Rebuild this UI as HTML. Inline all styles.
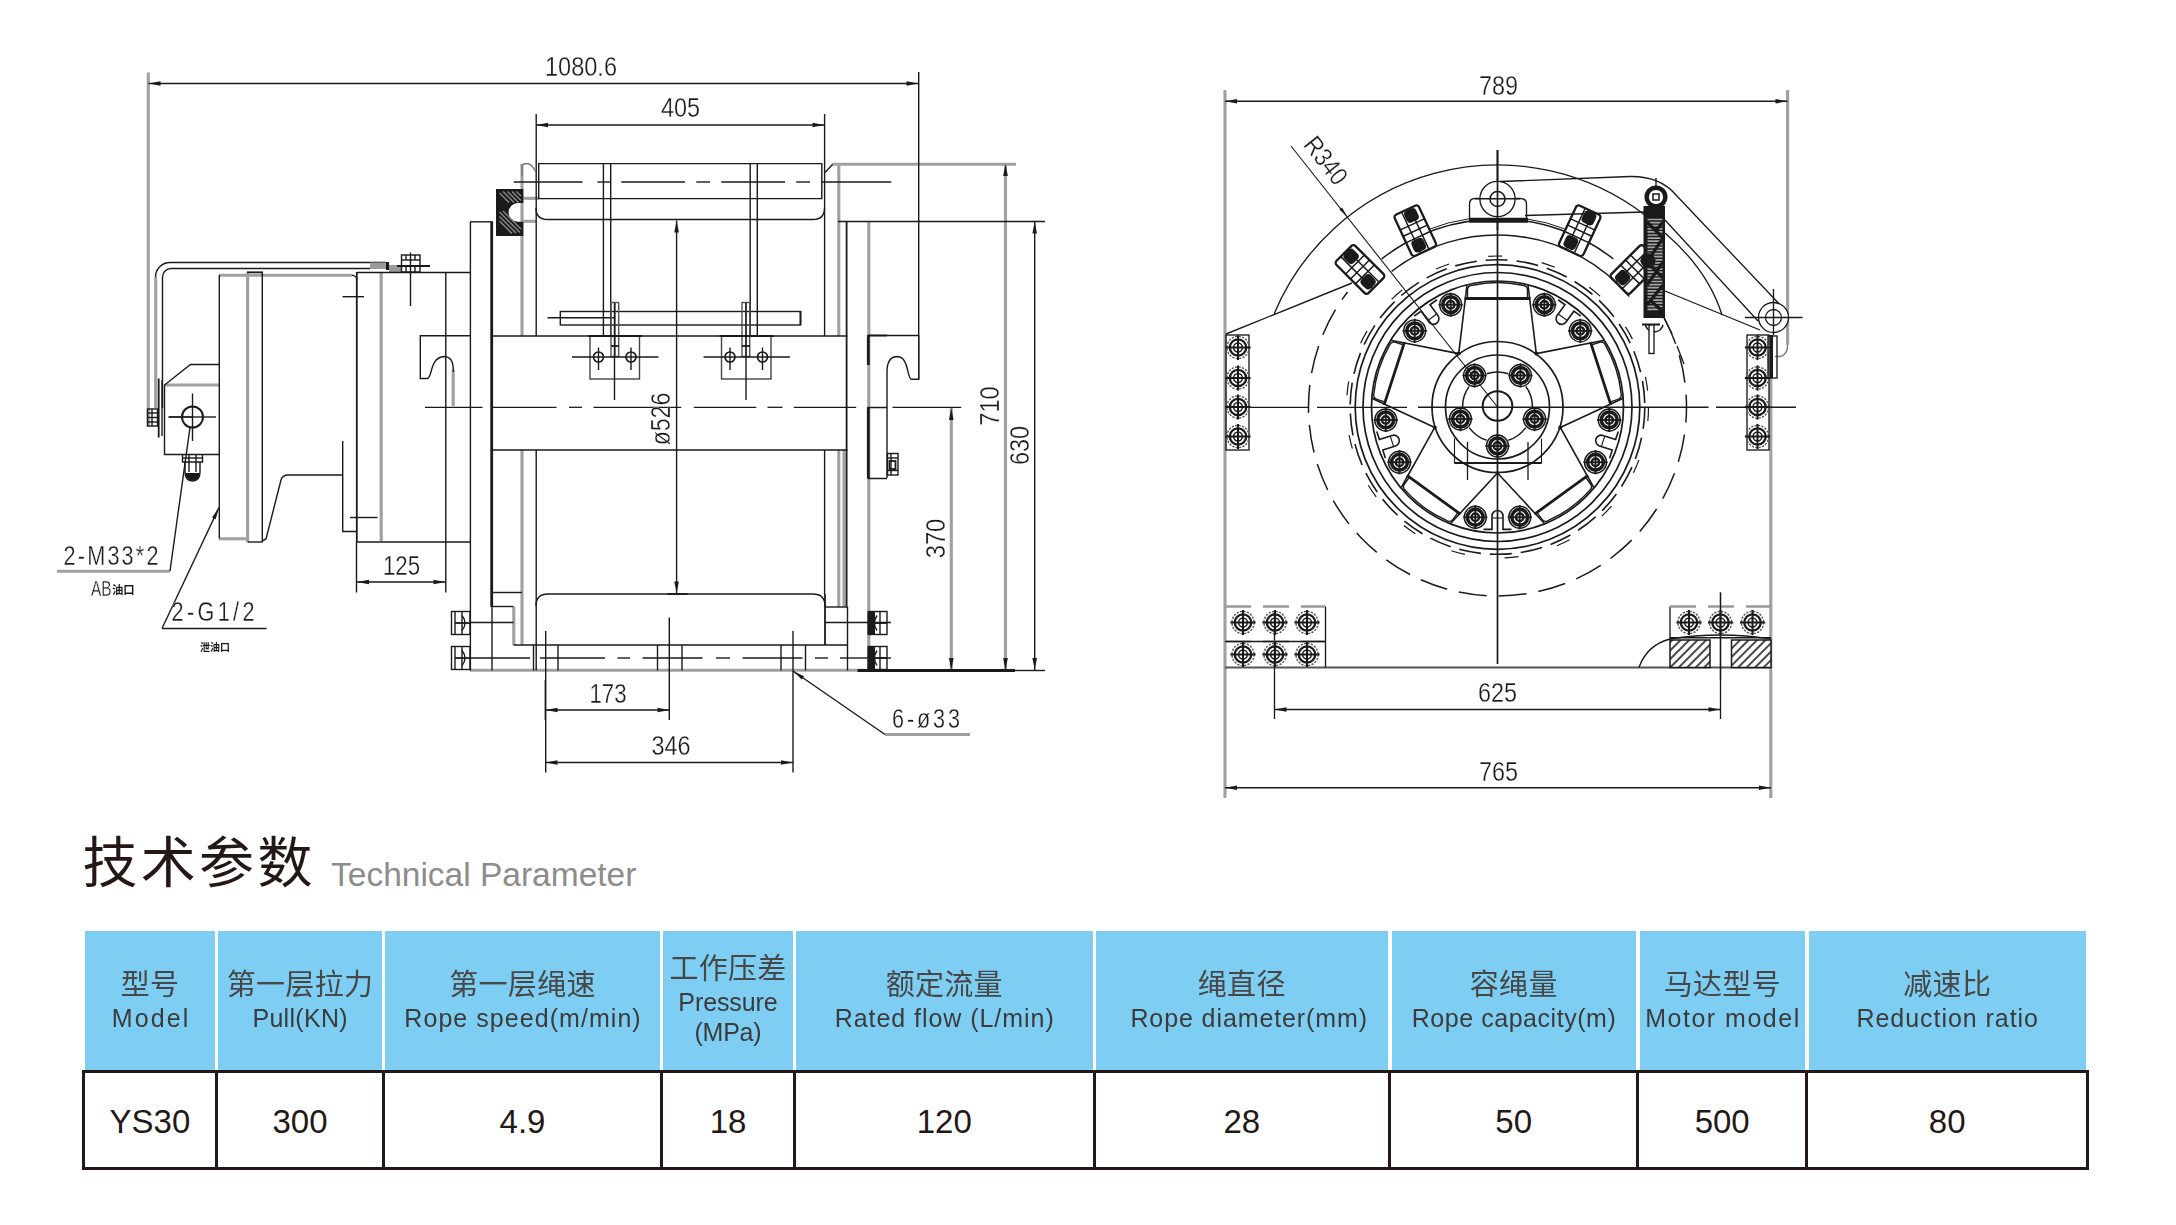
<!DOCTYPE html>
<html lang="zh"><head><meta charset="utf-8"><title>YS30</title>
<style>
html,body{margin:0;padding:0;background:#fff}
body{width:2176px;height:1225px;position:relative;overflow:hidden;font-family:"Liberation Sans","Noto Sans CJK SC",sans-serif;color:#231815}
svg{position:absolute;left:0;top:0}
.ttl{position:absolute;left:83px;top:826px;height:70px;white-space:nowrap}
.ttl .zh{position:absolute;left:-0.5px;top:1.5px;font-size:55px;line-height:70px;font-weight:400;letter-spacing:3.3px;color:#231815}
.ttl .en{position:absolute;left:248px;top:29px;font-size:33.5px;line-height:40px;color:#8c8c8c}
.hd{position:absolute;left:0;top:931.2px;height:139.3px;width:2176px}
.hc{position:absolute;top:0;height:139.3px;background:#7ecef4;text-align:center;white-space:nowrap;box-sizing:border-box;padding-top:35.8px;color:#3e3a39}
.hc b{filter:grayscale(1);display:block;font-weight:400;font-size:29px;line-height:36px;height:36px;letter-spacing:0.3px;color:#4a4645}
.hc i{filter:grayscale(1);display:block;font-style:normal;font-size:25px;line-height:30px;height:30px}
.hc.h3{padding-top:19.8px}
.bd{position:absolute;left:0;top:1070.4px;height:100px;width:2176px}
.bc{position:absolute;top:0;height:100px;box-sizing:border-box;border:0 solid #231815;border-width:3px 0 3px 3px;text-align:center;font-size:33px;line-height:97px;color:#231815}
svg text{stroke:#fff;stroke-width:0.3px;fill:#231815;font-family:"Liberation Sans","Noto Sans CJK SC",sans-serif}
svg .tz{font-family:"Liberation Sans","Noto Sans CJK SC",sans-serif;font-weight:700;fill:#231815;stroke:none}
svg .tx{}
svg .ar{fill:#231815;stroke:none}
svg .fk{fill:#231815;stroke:none}
svg .fg{fill:#9a9a9a;stroke:none}
svg .g{stroke:#a0a0a0;stroke-width:3.1}
svg .t{stroke-width:1.8}
svg .t2{stroke-width:2.8}
svg .t3{stroke-width:3}
</style></head><body>
<svg style="filter:grayscale(1)" width="2176" height="1225" viewBox="0 0 2176 1225" fill="none" stroke="#231815" stroke-width="1.15">
<g id="left" stroke-width="1.4">
<line x1="148.3" y1="72.5" x2="148.3" y2="426" class="g"/>
<line x1="219" y1="275.3" x2="352" y2="275.3" class="g"/>
<line x1="247.6" y1="272.5" x2="247.6" y2="542" class="g"/>
<line x1="381.2" y1="272.5" x2="381.2" y2="541" class="g"/>
<line x1="522" y1="164" x2="522" y2="336" class="g"/>
<line x1="522" y1="450" x2="522" y2="645" class="g"/>
<line x1="523" y1="198.3" x2="538.5" y2="198.3" class="g"/>
<line x1="523" y1="221.3" x2="536" y2="221.3" class="g"/>
<line x1="832" y1="164.3" x2="1016" y2="164.3" class="g"/>
<line x1="838.8" y1="164" x2="838.8" y2="336" class="g"/>
<line x1="838.8" y1="450" x2="838.8" y2="607" class="g"/>
<line x1="868.8" y1="221.5" x2="868.8" y2="670.5" class="g"/>
<line x1="1005.5" y1="164" x2="1005.5" y2="670" class="g"/>
<line x1="951.3" y1="408" x2="951.3" y2="670" class="g"/>
<line x1="453.2" y1="370" x2="453.2" y2="406" class="g"/>
<line x1="164.5" y1="385" x2="219" y2="385" class="g"/>
<line x1="57" y1="571.3" x2="170" y2="571.3" class="g"/>
<line x1="219" y1="538.8" x2="248" y2="538.8" class="g"/>
<line x1="513.8" y1="606.5" x2="513.8" y2="645" class="g"/>
<line x1="470" y1="670.3" x2="868" y2="670.3" class="g"/>
<line x1="885" y1="734.5" x2="970" y2="734.5" class="g"/>
<line x1="844" y1="450" x2="844" y2="607" class="g"/>
<line x1="918.7" y1="72" x2="918.7" y2="379"/>
<line x1="148.5" y1="83.5" x2="918.5" y2="83.5"/>
<path d="M148.5 83.5L160.5 81.2L160.5 85.8Z" class="ar"/>
<path d="M918.5 83.5L906.5 85.8L906.5 81.2Z" class="ar"/>
<text class="tx" x="581" y="76" font-size="27.04" text-anchor="middle" textLength="72.1" lengthAdjust="spacingAndGlyphs">1080.6</text>
<line x1="536.2" y1="114" x2="536.2" y2="336"/>
<line x1="824.6" y1="114" x2="824.6" y2="336"/>
<line x1="536" y1="125" x2="824.5" y2="125"/>
<path d="M536 125L548 122.7L548 127.3Z" class="ar"/>
<path d="M824.5 125L812.5 127.3L812.5 122.7Z" class="ar"/>
<text class="tx" x="680.5" y="117" font-size="27.04" text-anchor="middle" textLength="39.14" lengthAdjust="spacingAndGlyphs">405</text>
<line x1="155.7" y1="277" x2="155.7" y2="408" class="g"/>
<path d="M386 262.5H170A14.5 14.5 0 0 0 155.5 277"/>
<path d="M370 268.5H171A8.5 8.5 0 0 0 162.5 277V408"/>
<rect x="370" y="262.5" width="16" height="6.5" class="fg"/>
<rect x="386" y="262" width="3" height="8" class="fk"/>
<rect x="389" y="265" width="12" height="7" class="fg"/>
<rect x="401.5" y="255" width="18.5" height="17"/>
<line x1="401.5" y1="260" x2="420" y2="260"/>
<line x1="397" y1="266" x2="430" y2="266" class="t"/>
<line x1="406" y1="255" x2="406" y2="260"/>
<line x1="415" y1="255" x2="415" y2="260"/>
<line x1="406" y1="266" x2="406" y2="272"/>
<line x1="415" y1="266" x2="415" y2="272"/>
<line x1="410.5" y1="252.5" x2="410.5" y2="306"/>
<path d="M219.3 538.5V275"/>
<path d="M352 275.3A5 5 0 0 1 357 280"/>
<line x1="356.8" y1="272" x2="356.8" y2="542" class="t"/>
<line x1="356.5" y1="542" x2="356.5" y2="592.5"/>
<path d="M262.3 542V272.5"/>
<line x1="247" y1="272.3" x2="263" y2="272.3" class="t"/>
<line x1="247.5" y1="542" x2="262.5" y2="542"/>
<line x1="342.5" y1="296.7" x2="364" y2="296.7"/>
<line x1="357" y1="272.5" x2="470" y2="272.5"/>
<line x1="445.8" y1="272.5" x2="445.8" y2="592.5"/>
<path d="M262 541L266 539L281 480Q282.5 475 288 475H342.5"/>
<path d="M342.7 441V531.5H356.5"/>
<line x1="350" y1="517.5" x2="377.5" y2="517.5"/>
<line x1="357" y1="542" x2="470" y2="542"/>
<line x1="357" y1="582" x2="445.5" y2="582"/>
<path d="M357 582L369 579.7L369 584.3Z" class="ar"/>
<path d="M445.5 582L433.5 584.3L433.5 579.7Z" class="ar"/>
<text class="tx" x="401.5" y="575" font-size="27.04" text-anchor="middle" textLength="37.08" lengthAdjust="spacingAndGlyphs">125</text>
<path d="M219 364.5H190.5L164.5 385V454.5H219"/>
<circle cx="192.5" cy="417" r="10.5" stroke-width="2"/>
<line x1="168.5" y1="417" x2="192.5" y2="417" class="t"/>
<line x1="192.5" y1="417" x2="216" y2="417"/>
<line x1="192.5" y1="393.5" x2="192.5" y2="441"/>
<rect x="147.5" y="409" width="10" height="17"/>
<line x1="147.5" y1="413" x2="157.5" y2="413"/>
<line x1="147.5" y1="417.5" x2="157.5" y2="417.5"/>
<line x1="147.5" y1="422" x2="157.5" y2="422"/>
<line x1="152" y1="409" x2="152" y2="426"/>
<line x1="158.7" y1="378.5" x2="158.7" y2="437.5" class="t"/>
<line x1="162" y1="380" x2="162" y2="436"/>
<path d="M182.5 454.5V462H202.5V454.5M185 462V472Q185 481 192.5 481Q200 481 200 472V462"/>
<path d="M185.5 473H199.5V475Q198 480.5 192.5 480.5Q187 480.5 185.5 475Z" class="fk"/>
<line x1="189" y1="455" x2="189" y2="472"/>
<line x1="196" y1="455" x2="196" y2="472"/>
<line x1="182.5" y1="458" x2="202.5" y2="458"/>
<line x1="190" y1="427.5" x2="170" y2="571"/>
<text class="tx" font-size="27.04" text-anchor="middle" transform="translate(111 565) scale(0.8 1)" textLength="118.75" lengthAdjust="spacing">2-M33*2</text>
<text class="tx" x="91" y="596" font-size="21.84" text-anchor="start" textLength="20.6" lengthAdjust="spacingAndGlyphs">AB</text>
<text class="tz" x="112" y="594" font-size="11.44" text-anchor="start" textLength="22.66" lengthAdjust="spacingAndGlyphs">油口</text>
<line x1="219" y1="507.5" x2="162" y2="628.5"/>
<path d="M219 507.5L215.66 519.2L212.05 517.48Z" class="ar"/>
<line x1="162" y1="628.5" x2="266.5" y2="628.5"/>
<text class="tx" font-size="27.04" text-anchor="middle" transform="translate(213 621) scale(0.8 1)" textLength="103.75" lengthAdjust="spacing">2-G1/2</text>
<text class="tz" x="200" y="651" font-size="10.4" text-anchor="start" textLength="29.87" lengthAdjust="spacingAndGlyphs">泄油口</text>
<line x1="470.4" y1="222" x2="470.4" y2="670.5"/>
<line x1="470" y1="221.8" x2="493" y2="221.8"/>
<line x1="491.7" y1="222" x2="491.7" y2="607" class="t2"/>
<line x1="492" y1="607" x2="492" y2="670.5"/>
<path d="M470 335.7H420.3V378.5H427.5C432 378.5 430 357 444 356.5C454 356.5 453.3 368 453.3 372"/>
<path d="M496 189H523.3V203H518A9.4 9.4 0 0 0 518 221.8H523.3V236H496Z" class="fk"/>
<path d="M499.5 193L509 202.5M503 191.5L514 202.5M507.5 191.5L518.5 202.5M512 191.5L521 200.5M516.5 191.5L521 196M499.5 212L520 232.5M499.5 216.5L516 233M499.5 221L512 233.5M503 211L521 229" stroke="#8a8a8a" stroke-width="1.4"/>
<path d="M522 176V166.5Q522 163.7 525 163.7H528Q531 164 533 167.5L536 172" stroke="#777"/>
<path d="M825 172.5L832.5 164.5"/>
<path d="M538.7 163.6H821.8V198.6H538.7Z"/>
<path d="M536 208Q536 219.5 547.5 219.5H813Q824.5 219.5 824.5 208"/>
<line x1="513.75" y1="182" x2="582.5" y2="182"/>
<line x1="597.5" y1="182" x2="610" y2="182"/>
<line x1="621.25" y1="182" x2="685" y2="182"/>
<line x1="696.25" y1="182" x2="710" y2="182"/>
<line x1="721.25" y1="182" x2="785" y2="182"/>
<line x1="796.25" y1="182" x2="810" y2="182"/>
<line x1="821.25" y1="182" x2="891.25" y2="182"/>
<line x1="603.4" y1="164" x2="603.4" y2="336"/>
<line x1="610.7" y1="164" x2="610.7" y2="336"/>
<line x1="750.2" y1="164" x2="750.2" y2="336"/>
<line x1="757.3" y1="164" x2="757.3" y2="336"/>
<line x1="838" y1="221.5" x2="1045" y2="221.5"/>
<line x1="846.6" y1="221.5" x2="846.6" y2="607" class="t"/>
<line x1="847.5" y1="607" x2="847.5" y2="670.5"/>
<path d="M868.5 335.5H918.7V379.3H911.5C907 379 909 357 897.5 356.5C887 356.5 887 368 887 372V478"/>
<line x1="868.3" y1="335" x2="868.3" y2="365" class="t2"/>
<line x1="868" y1="335.5" x2="887" y2="335.5" class="t"/>
<path d="M868 407.5H887M868 478.5H887"/>
<line x1="868.3" y1="407" x2="868.3" y2="478.5" class="t2"/>
<rect x="887.5" y="453.5" width="10.5" height="21.5"/>
<line x1="887.5" y1="458" x2="898" y2="458"/>
<line x1="887.5" y1="470.5" x2="898" y2="470.5"/>
<line x1="891" y1="453.5" x2="891" y2="475"/>
<rect x="889.5" y="461" width="6" height="8" class="t"/>
<line x1="492.5" y1="336" x2="847.5" y2="336"/>
<line x1="492.5" y1="450" x2="847.5" y2="450" stroke-width="1.4"/>
<line x1="425" y1="407.3" x2="482.5" y2="407.3" stroke-width="1.3"/>
<line x1="492.5" y1="407.3" x2="556.5" y2="407.3" stroke-width="1.3"/>
<line x1="569" y1="407.3" x2="582" y2="407.3" stroke-width="1.3"/>
<line x1="593.5" y1="407.3" x2="681.25" y2="407.3" stroke-width="1.3"/>
<line x1="693.75" y1="407.3" x2="756.25" y2="407.3" stroke-width="1.3"/>
<line x1="767.5" y1="407.3" x2="782.5" y2="407.3" stroke-width="1.3"/>
<line x1="793.75" y1="407.3" x2="856.25" y2="407.3" stroke-width="1.3"/>
<line x1="892.5" y1="407.3" x2="961.25" y2="407.3" stroke-width="1.3"/>
<line x1="536.2" y1="450" x2="536.2" y2="670.5"/>
<line x1="824.6" y1="450" x2="824.6" y2="594"/>
<line x1="825" y1="594" x2="825" y2="645" class="t"/>
<line x1="676.6" y1="220.5" x2="676.6" y2="593.5"/>
<path d="M676.6 220.5L678.9 232.5L674.3 232.5Z" class="ar"/>
<path d="M676.6 593.5L674.3 581.5L678.9 581.5Z" class="ar"/>
<line x1="667.5" y1="594" x2="687.5" y2="594" class="t"/>
<text class="tx" x="670" y="419" font-size="27.04" text-anchor="middle" textLength="52.53" lengthAdjust="spacingAndGlyphs" transform="rotate(-90 670 419)">ø526</text>
<rect x="560.3" y="311.5" width="240.2" height="13.5"/>
<line x1="800.5" y1="311" x2="800.5" y2="325" class="t"/>
<line x1="547.5" y1="317.7" x2="615" y2="317.7"/>
<rect x="611" y="302.5" width="7.7" height="54" stroke="#555"/>
<line x1="615" y1="302.5" x2="615" y2="356" stroke="#555"/>
<line x1="611" y1="346" x2="619" y2="346" class="t"/>
<rect x="742" y="302.5" width="7.7" height="54" stroke="#555"/>
<line x1="746" y1="302.5" x2="746" y2="356" stroke="#555"/>
<line x1="742" y1="346" x2="750" y2="346" class="t"/>
<rect x="590" y="336" width="49.5" height="43" stroke="#444"/>
<line x1="588" y1="336" x2="642" y2="336" class="t"/>
<line x1="572" y1="357" x2="658.5" y2="357"/>
<line x1="614.5" y1="302.5" x2="614.5" y2="400"/>
<circle cx="598.5" cy="357" r="5" stroke-width="1.7"/>
<line x1="598.5" y1="347.5" x2="598.5" y2="370"/>
<circle cx="631" cy="357" r="5" stroke-width="1.7"/>
<line x1="631" y1="347.5" x2="631" y2="370"/>
<rect x="721.5" y="336" width="49.5" height="43" stroke="#444"/>
<line x1="719.5" y1="336" x2="773.5" y2="336" class="t"/>
<line x1="703.5" y1="357" x2="790" y2="357"/>
<line x1="746" y1="302.5" x2="746" y2="400"/>
<circle cx="730" cy="357" r="5" stroke-width="1.7"/>
<line x1="730" y1="347.5" x2="730" y2="370"/>
<circle cx="762.5" cy="357" r="5" stroke-width="1.7"/>
<line x1="762.5" y1="347.5" x2="762.5" y2="370"/>
<line x1="492.5" y1="592.5" x2="522" y2="592.5"/>
<line x1="492.5" y1="606.5" x2="513.5" y2="606.5"/>
<line x1="470.5" y1="622.5" x2="513.5" y2="622.5"/>
<path d="M536 606Q536 594 548 594H813Q825 594 825 606"/>
<line x1="825" y1="607" x2="847.5" y2="607"/>
<line x1="825" y1="622.5" x2="891" y2="622.5"/>
<line x1="513.5" y1="645" x2="847.5" y2="645" stroke-width="1.4"/>
<line x1="857.5" y1="670.5" x2="1015" y2="670.5" class="t2"/>
<line x1="1015" y1="670.5" x2="1045" y2="670.5"/>
<line x1="470" y1="658" x2="530" y2="658"/>
<line x1="540" y1="658" x2="605" y2="658"/>
<line x1="617.5" y1="658" x2="630" y2="658"/>
<line x1="642.5" y1="658" x2="702.5" y2="658"/>
<line x1="716" y1="658" x2="730" y2="658"/>
<line x1="742.5" y1="658" x2="802.5" y2="658"/>
<line x1="815" y1="658" x2="828" y2="658"/>
<line x1="840" y1="658" x2="867.5" y2="658"/>
<line x1="877.5" y1="658" x2="891" y2="658"/>
<line x1="533.5" y1="645" x2="533.5" y2="670.5"/>
<line x1="558" y1="645" x2="558" y2="670.5"/>
<line x1="657.5" y1="645" x2="657.5" y2="670.5"/>
<line x1="682" y1="645" x2="682" y2="670.5"/>
<line x1="781" y1="645" x2="781" y2="670.5"/>
<line x1="805.5" y1="645" x2="805.5" y2="670.5"/>
<line x1="545.7" y1="631" x2="545.7" y2="680"/>
<line x1="545.5" y1="680" x2="545.5" y2="720" class="t"/>
<line x1="545.7" y1="720" x2="545.7" y2="772.5"/>
<line x1="669.3" y1="617.5" x2="669.3" y2="720"/>
<line x1="793" y1="631" x2="793" y2="772.5"/>
<rect x="451.5" y="611.5" width="18.5" height="23"/>
<line x1="455" y1="611.5" x2="455" y2="634.5"/>
<line x1="462" y1="611.5" x2="462" y2="634.5"/>
<path d="M462 615.5Q468 623.0 462 630.5"/>
<line x1="455" y1="623" x2="470" y2="623" class="t"/>
<rect x="868.5" y="611.5" width="18.5" height="23"/>
<rect x="867.5" y="611.5" width="7.5" height="23" class="fk"/>
<line x1="880" y1="611.5" x2="880" y2="634.5"/>
<path d="M877 615.5Q872 623.0 877 630.5"/>
<line x1="872" y1="623" x2="887" y2="623" class="t"/>
<rect x="451.5" y="646.5" width="18.5" height="23"/>
<line x1="455" y1="646.5" x2="455" y2="669.5"/>
<line x1="462" y1="646.5" x2="462" y2="669.5"/>
<path d="M462 650.5Q468 658.0 462 665.5"/>
<line x1="455" y1="658" x2="470" y2="658" class="t"/>
<rect x="868.5" y="646.5" width="18.5" height="23"/>
<rect x="867.5" y="646.5" width="7.5" height="23" class="fk"/>
<line x1="880" y1="646.5" x2="880" y2="669.5"/>
<path d="M877 650.5Q872 658.0 877 665.5"/>
<line x1="872" y1="658" x2="887" y2="658" class="t"/>
<line x1="545.5" y1="710" x2="669.5" y2="710"/>
<path d="M545.5 710L557.5 707.7L557.5 712.3Z" class="ar"/>
<path d="M669.5 710L657.5 712.3L657.5 707.7Z" class="ar"/>
<text class="tx" x="608" y="703" font-size="27.04" text-anchor="middle" textLength="37.08" lengthAdjust="spacingAndGlyphs">173</text>
<line x1="545.5" y1="762.5" x2="793" y2="762.5"/>
<path d="M545.5 762.5L557.5 760.2L557.5 764.8Z" class="ar"/>
<path d="M793 762.5L781 764.8L781 760.2Z" class="ar"/>
<text class="tx" x="671" y="755" font-size="27.04" text-anchor="middle" textLength="39.14" lengthAdjust="spacingAndGlyphs">346</text>
<line x1="793" y1="671" x2="885" y2="734.5"/>
<path d="M793 671L804.03 676.13L801.77 679.43Z" class="ar"/>
<text class="tx" font-size="27.04" text-anchor="middle" transform="translate(926 727.5) scale(0.8 1)" textLength="85" lengthAdjust="spacing">6-ø33</text>
<path d="M1005.5 164L1007.8 176L1003.2 176Z" class="ar"/>
<path d="M1005.5 670L1003.2 658L1007.8 658Z" class="ar"/>
<line x1="1034.7" y1="221.5" x2="1034.7" y2="670"/>
<path d="M1034.7 221.5L1037 233.5L1032.4 233.5Z" class="ar"/>
<path d="M1034.7 670L1032.4 658L1037 658Z" class="ar"/>
<path d="M951.3 408L953.6 420L949 420Z" class="ar"/>
<path d="M951.3 670L949 658L953.6 658Z" class="ar"/>
<text class="tx" x="945" y="538.5" font-size="27.04" text-anchor="middle" textLength="39.66" lengthAdjust="spacingAndGlyphs" transform="rotate(-90 945 538.5)">370</text>
<text class="tx" x="999" y="406" font-size="27.04" text-anchor="middle" textLength="39.66" lengthAdjust="spacingAndGlyphs" transform="rotate(-90 999 406)">710</text>
<text class="tx" x="1028.5" y="445.5" font-size="27.04" text-anchor="middle" textLength="39.14" lengthAdjust="spacingAndGlyphs" transform="rotate(-90 1028.5 445.5)">630</text>
</g>
<g id="right" stroke-width="1.35">
<line x1="1225" y1="90" x2="1225" y2="798" class="g"/>
<line x1="1787.6" y1="90" x2="1787.6" y2="345" class="g"/>
<path d="M1787.6 345Q1787.6 355 1780 356.5H1775" stroke="#777"/>
<line x1="1770.8" y1="335" x2="1770.8" y2="798" class="g"/>
<line x1="1225" y1="101.2" x2="1787.5" y2="101.2"/>
<path d="M1225 101.2L1237 98.9L1237 103.5Z" class="ar"/>
<path d="M1787.5 101.2L1775.5 103.5L1775.5 98.9Z" class="ar"/>
<text class="tx" x="1498.5" y="94.5" font-size="27.04" text-anchor="middle" textLength="39.14" lengthAdjust="spacingAndGlyphs">789</text>
<line x1="1225" y1="667.5" x2="1771" y2="667.5" stroke="#555" stroke-width="2"/>
<line x1="1274.5" y1="709.5" x2="1720.5" y2="709.5"/>
<path d="M1274.5 709.5L1286.5 707.2L1286.5 711.8Z" class="ar"/>
<path d="M1720.5 709.5L1708.5 711.8L1708.5 707.2Z" class="ar"/>
<line x1="1274.5" y1="612" x2="1274.5" y2="719"/>
<line x1="1720.5" y1="592.5" x2="1720.5" y2="719"/>
<text class="tx" x="1497.5" y="702" font-size="27.04" text-anchor="middle" textLength="39.14" lengthAdjust="spacingAndGlyphs">625</text>
<line x1="1225" y1="787.7" x2="1771" y2="787.7"/>
<path d="M1225 787.7L1237 785.4L1237 790Z" class="ar"/>
<path d="M1771 787.7L1759 790L1759 785.4Z" class="ar"/>
<text class="tx" x="1498.5" y="780.5" font-size="27.04" text-anchor="middle" textLength="39.14" lengthAdjust="spacingAndGlyphs">765</text>
<line x1="1497.5" y1="150" x2="1497.5" y2="664" stroke-width="1.7"/>
<line x1="1249" y1="407.3" x2="1308" y2="407.3" stroke-width="1.3"/>
<line x1="1317" y1="407.3" x2="1407" y2="407.3" stroke-width="1.3"/>
<line x1="1418" y1="407.3" x2="1708.5" y2="407.3" stroke-width="1.6"/>
<line x1="1716" y1="407.3" x2="1796" y2="407.3" stroke-width="1.6"/>
<path d="M1274.08 314A242 242 0 0 1 1644.82 215.01"/>
<line x1="1226" y1="334" x2="1352" y2="283"/>
<path d="M1664.38 318.27A189 189 0 1 1 1347.56 291.94" stroke-dasharray="28 12" stroke-width="1.5"/>
<path d="M1381.76 258.85A188 188 0 0 1 1613.24 258.85" stroke-width="1.5"/>
<path d="M1391.61 271.46A172 172 0 0 1 1629.26 296.44" stroke-width="1.5"/>
<path d="M1426.14 230.37A190.5 190.5 0 0 1 1470.99 218.35" stroke-width="1"/>
<path d="M1524.01 218.35A190.5 190.5 0 0 1 1568.86 230.37" stroke-width="1"/>
<circle cx="1497.5" cy="407" r="126" stroke-width="1.7"/>
<circle cx="1497.5" cy="407" r="134.5" stroke-width="1.7"/>
<circle cx="1497.5" cy="407" r="142.3" stroke-width="1.7"/>
<circle cx="1497.5" cy="407" r="147.3" stroke-dasharray="22 9" stroke-width="1.6"/>
<circle cx="1497.5" cy="407" r="151" stroke-dasharray="14 40" stroke-width="1.2"/>
<circle cx="1497.5" cy="407" r="65.5" stroke-width="1.7"/>
<circle cx="1497.5" cy="407" r="52" stroke-width="1.7"/>
<circle cx="1497.5" cy="406" r="14.8" stroke-width="2"/>
<path d="M1486.68 440.29A35 35 0 0 1 1469.18 427.57" stroke-width="1.5"/>
<line x1="1497.5" y1="473" x2="1544.7" y2="523.83" stroke-width="1.6"/>
<line x1="1497.5" y1="473" x2="1450.3" y2="523.83" stroke-width="1.6"/>
<circle cx="1497.5" cy="473" r="2" class="fk"/>
<g transform="translate(1497.5 407) rotate(36)">
<path d="M-33 108.5H33" stroke-width="2.8"/>
<path d="M-30 109V117Q-30 121.5 -25 121.8A121.5 121.5 0 0 0 25 121.8Q30 121.5 30 117V109" stroke-width="1.4"/>
</g>
<g transform="translate(1497.5 407) rotate(0)">
<path d="M-14 122.4H-5.5V109A5.5 5.5 0 0 1 5.5 109V122.4H14" stroke-width="1.6"/>
<path d="M-5.5 111H5.5" stroke-width="1.1"/>
</g>
<circle cx="1519.74" cy="517.28" r="11" stroke-width="1.4"/>
<circle cx="1519.74" cy="517.28" r="7.92" stroke-width="3.5"/>
<circle cx="1519.74" cy="517.28" r="3.74" stroke-width="2.4"/>
<line x1="1507.64" y1="517.28" x2="1531.84" y2="517.28" stroke-width="1.8"/>
<line x1="1519.74" y1="505.18" x2="1519.74" y2="529.38" stroke-width="1.8"/>
<circle cx="1475.26" cy="517.28" r="11" stroke-width="1.4"/>
<circle cx="1475.26" cy="517.28" r="7.92" stroke-width="3.5"/>
<circle cx="1475.26" cy="517.28" r="3.74" stroke-width="2.4"/>
<line x1="1463.16" y1="517.28" x2="1487.36" y2="517.28" stroke-width="1.8"/>
<line x1="1475.26" y1="505.18" x2="1475.26" y2="529.38" stroke-width="1.8"/>
<circle cx="1497.5" cy="446" r="11" stroke-width="1.4"/>
<circle cx="1497.5" cy="446" r="7.92" stroke-width="3.5"/>
<circle cx="1497.5" cy="446" r="3.74" stroke-width="2.4"/>
<line x1="1485.4" y1="446" x2="1509.6" y2="446" stroke-width="1.8"/>
<line x1="1497.5" y1="433.9" x2="1497.5" y2="458.1" stroke-width="1.8"/>
<path d="M1462.5 407A35 35 0 0 1 1469.18 386.43" stroke-width="1.5"/>
<line x1="1434.73" y1="427.4" x2="1400.98" y2="487.99" stroke-width="1.6"/>
<line x1="1434.73" y1="427.4" x2="1371.81" y2="398.21" stroke-width="1.6"/>
<circle cx="1434.73" cy="427.4" r="2" class="fk"/>
<g transform="translate(1497.5 407) rotate(108)">
<path d="M-33 108.5H33" stroke-width="2.8"/>
<path d="M-30 109V117Q-30 121.5 -25 121.8A121.5 121.5 0 0 0 25 121.8Q30 121.5 30 117V109" stroke-width="1.4"/>
</g>
<g transform="translate(1497.5 407) rotate(72)">
<path d="M-14 122.4H-5.5V109A5.5 5.5 0 0 1 5.5 109V122.4H14" stroke-width="1.6"/>
<path d="M-5.5 111H5.5" stroke-width="1.1"/>
</g>
<circle cx="1399.49" cy="462.23" r="11" stroke-width="1.4"/>
<circle cx="1399.49" cy="462.23" r="7.92" stroke-width="3.5"/>
<circle cx="1399.49" cy="462.23" r="3.74" stroke-width="2.4"/>
<line x1="1387.39" y1="462.23" x2="1411.59" y2="462.23" stroke-width="1.8"/>
<line x1="1399.49" y1="450.13" x2="1399.49" y2="474.33" stroke-width="1.8"/>
<circle cx="1385.75" cy="419.93" r="11" stroke-width="1.4"/>
<circle cx="1385.75" cy="419.93" r="7.92" stroke-width="3.5"/>
<circle cx="1385.75" cy="419.93" r="3.74" stroke-width="2.4"/>
<line x1="1373.65" y1="419.93" x2="1397.85" y2="419.93" stroke-width="1.8"/>
<line x1="1385.75" y1="407.83" x2="1385.75" y2="432.03" stroke-width="1.8"/>
<circle cx="1460.41" cy="419.05" r="11" stroke-width="1.4"/>
<circle cx="1460.41" cy="419.05" r="7.92" stroke-width="3.5"/>
<circle cx="1460.41" cy="419.05" r="3.74" stroke-width="2.4"/>
<line x1="1448.31" y1="419.05" x2="1472.51" y2="419.05" stroke-width="1.8"/>
<line x1="1460.41" y1="406.95" x2="1460.41" y2="431.15" stroke-width="1.8"/>
<path d="M1486.68 373.71A35 35 0 0 1 1508.32 373.71" stroke-width="1.5"/>
<line x1="1458.71" y1="353.6" x2="1390.65" y2="340.23" stroke-width="1.6"/>
<line x1="1458.71" y1="353.6" x2="1467.02" y2="284.74" stroke-width="1.6"/>
<circle cx="1458.71" cy="353.6" r="2" class="fk"/>
<g transform="translate(1497.5 407) rotate(180)">
<path d="M-33 108.5H33" stroke-width="2.8"/>
<path d="M-30 109V117Q-30 121.5 -25 121.8A121.5 121.5 0 0 0 25 121.8Q30 121.5 30 117V109" stroke-width="1.4"/>
</g>
<g transform="translate(1497.5 407) rotate(144)">
<path d="M-14 122.4H-5.5V109A5.5 5.5 0 0 1 5.5 109V122.4H14" stroke-width="1.6"/>
<path d="M-5.5 111H5.5" stroke-width="1.1"/>
</g>
<circle cx="1414.69" cy="330.85" r="11" stroke-width="1.4"/>
<circle cx="1414.69" cy="330.85" r="7.92" stroke-width="3.5"/>
<circle cx="1414.69" cy="330.85" r="3.74" stroke-width="2.4"/>
<line x1="1402.59" y1="330.85" x2="1426.79" y2="330.85" stroke-width="1.8"/>
<line x1="1414.69" y1="318.75" x2="1414.69" y2="342.95" stroke-width="1.8"/>
<circle cx="1450.67" cy="304.71" r="11" stroke-width="1.4"/>
<circle cx="1450.67" cy="304.71" r="7.92" stroke-width="3.5"/>
<circle cx="1450.67" cy="304.71" r="3.74" stroke-width="2.4"/>
<line x1="1438.57" y1="304.71" x2="1462.77" y2="304.71" stroke-width="1.8"/>
<line x1="1450.67" y1="292.61" x2="1450.67" y2="316.81" stroke-width="1.8"/>
<circle cx="1474.58" cy="375.45" r="11" stroke-width="1.4"/>
<circle cx="1474.58" cy="375.45" r="7.92" stroke-width="3.5"/>
<circle cx="1474.58" cy="375.45" r="3.74" stroke-width="2.4"/>
<line x1="1462.48" y1="375.45" x2="1486.68" y2="375.45" stroke-width="1.8"/>
<line x1="1474.58" y1="363.35" x2="1474.58" y2="387.55" stroke-width="1.8"/>
<path d="M1525.82 386.43A35 35 0 0 1 1532.5 407" stroke-width="1.5"/>
<line x1="1536.29" y1="353.6" x2="1527.98" y2="284.74" stroke-width="1.6"/>
<line x1="1536.29" y1="353.6" x2="1604.35" y2="340.23" stroke-width="1.6"/>
<circle cx="1536.29" cy="353.6" r="2" class="fk"/>
<g transform="translate(1497.5 407) rotate(252)">
<path d="M-33 108.5H33" stroke-width="2.8"/>
<path d="M-30 109V117Q-30 121.5 -25 121.8A121.5 121.5 0 0 0 25 121.8Q30 121.5 30 117V109" stroke-width="1.4"/>
</g>
<g transform="translate(1497.5 407) rotate(216)">
<path d="M-14 122.4H-5.5V109A5.5 5.5 0 0 1 5.5 109V122.4H14" stroke-width="1.6"/>
<path d="M-5.5 111H5.5" stroke-width="1.1"/>
</g>
<circle cx="1544.33" cy="304.71" r="11" stroke-width="1.4"/>
<circle cx="1544.33" cy="304.71" r="7.92" stroke-width="3.5"/>
<circle cx="1544.33" cy="304.71" r="3.74" stroke-width="2.4"/>
<line x1="1532.23" y1="304.71" x2="1556.43" y2="304.71" stroke-width="1.8"/>
<line x1="1544.33" y1="292.61" x2="1544.33" y2="316.81" stroke-width="1.8"/>
<circle cx="1580.31" cy="330.85" r="11" stroke-width="1.4"/>
<circle cx="1580.31" cy="330.85" r="7.92" stroke-width="3.5"/>
<circle cx="1580.31" cy="330.85" r="3.74" stroke-width="2.4"/>
<line x1="1568.21" y1="330.85" x2="1592.41" y2="330.85" stroke-width="1.8"/>
<line x1="1580.31" y1="318.75" x2="1580.31" y2="342.95" stroke-width="1.8"/>
<circle cx="1520.42" cy="375.45" r="11" stroke-width="1.4"/>
<circle cx="1520.42" cy="375.45" r="7.92" stroke-width="3.5"/>
<circle cx="1520.42" cy="375.45" r="3.74" stroke-width="2.4"/>
<line x1="1508.32" y1="375.45" x2="1532.52" y2="375.45" stroke-width="1.8"/>
<line x1="1520.42" y1="363.35" x2="1520.42" y2="387.55" stroke-width="1.8"/>
<path d="M1525.82 427.57A35 35 0 0 1 1508.32 440.29" stroke-width="1.5"/>
<line x1="1560.27" y1="427.4" x2="1623.19" y2="398.21" stroke-width="1.6"/>
<line x1="1560.27" y1="427.4" x2="1594.02" y2="487.99" stroke-width="1.6"/>
<circle cx="1560.27" cy="427.4" r="2" class="fk"/>
<g transform="translate(1497.5 407) rotate(324)">
<path d="M-33 108.5H33" stroke-width="2.8"/>
<path d="M-30 109V117Q-30 121.5 -25 121.8A121.5 121.5 0 0 0 25 121.8Q30 121.5 30 117V109" stroke-width="1.4"/>
</g>
<g transform="translate(1497.5 407) rotate(288)">
<path d="M-14 122.4H-5.5V109A5.5 5.5 0 0 1 5.5 109V122.4H14" stroke-width="1.6"/>
<path d="M-5.5 111H5.5" stroke-width="1.1"/>
</g>
<circle cx="1609.25" cy="419.93" r="11" stroke-width="1.4"/>
<circle cx="1609.25" cy="419.93" r="7.92" stroke-width="3.5"/>
<circle cx="1609.25" cy="419.93" r="3.74" stroke-width="2.4"/>
<line x1="1597.15" y1="419.93" x2="1621.35" y2="419.93" stroke-width="1.8"/>
<line x1="1609.25" y1="407.83" x2="1609.25" y2="432.03" stroke-width="1.8"/>
<circle cx="1595.51" cy="462.23" r="11" stroke-width="1.4"/>
<circle cx="1595.51" cy="462.23" r="7.92" stroke-width="3.5"/>
<circle cx="1595.51" cy="462.23" r="3.74" stroke-width="2.4"/>
<line x1="1583.41" y1="462.23" x2="1607.61" y2="462.23" stroke-width="1.8"/>
<line x1="1595.51" y1="450.13" x2="1595.51" y2="474.33" stroke-width="1.8"/>
<circle cx="1534.59" cy="419.05" r="11" stroke-width="1.4"/>
<circle cx="1534.59" cy="419.05" r="7.92" stroke-width="3.5"/>
<circle cx="1534.59" cy="419.05" r="3.74" stroke-width="2.4"/>
<line x1="1522.49" y1="419.05" x2="1546.69" y2="419.05" stroke-width="1.8"/>
<line x1="1534.59" y1="406.95" x2="1534.59" y2="431.15" stroke-width="1.8"/>
<path d="M1454.5 438.5V463H1541.5V438.5" stroke-width="1.1"/>
<line x1="1454.5" y1="463" x2="1541.5" y2="463" stroke-width="2"/>
<line x1="1467.5" y1="442" x2="1467.5" y2="480" stroke-width="1.3"/>
<line x1="1528" y1="442" x2="1528" y2="480" stroke-width="1.3"/>
<line x1="1291" y1="146" x2="1497.5" y2="407" stroke-width="1.1"/>
<path d="M1347.51 217.08L1339.36 209.51L1342.03 207.4Z" class="ar"/>
<text class="tx" x="1319" y="166" font-size="26" text-anchor="middle" textLength="53.56" lengthAdjust="spacingAndGlyphs" transform="rotate(51.7 1319 166)">R340</text>
<g transform="translate(1359.97 269.47) rotate(-135)">
<rect x="-22.7" y="-13.4" width="45.4" height="26.8" rx="3" stroke-width="2.3" fill="#fff"/>
<path d="M-23 -4.5H23M-23 4.5H23M-7 -13.75V13.75M0 -13.75V13.75M7 -13.75V13.75" stroke-width="1.5"/>
<rect x="-21" y="-9.5" width="13" height="13" rx="4" class="fk"/><rect x="9" y="-3.5" width="13" height="13" rx="4" class="fk"/>
</g>
<g transform="translate(1415.3 230.72) rotate(-115)">
<rect x="-22.7" y="-13.4" width="45.4" height="26.8" rx="3" stroke-width="2.3" fill="#fff"/>
<path d="M-23 -4.5H23M-23 4.5H23M-7 -13.75V13.75M0 -13.75V13.75M7 -13.75V13.75" stroke-width="1.5"/>
<rect x="-21" y="-9.5" width="13" height="13" rx="4" class="fk"/><rect x="9" y="-3.5" width="13" height="13" rx="4" class="fk"/>
</g>
<g transform="translate(1579.7 230.72) rotate(-65)">
<rect x="-22.7" y="-13.4" width="45.4" height="26.8" rx="3" stroke-width="2.3" fill="#fff"/>
<path d="M-23 -4.5H23M-23 4.5H23M-7 -13.75V13.75M0 -13.75V13.75M7 -13.75V13.75" stroke-width="1.5"/>
<rect x="-21" y="-9.5" width="13" height="13" rx="4" class="fk"/><rect x="9" y="-3.5" width="13" height="13" rx="4" class="fk"/>
</g>
<g transform="translate(1635.03 269.47) rotate(-45)">
<rect x="-22.7" y="-13.4" width="45.4" height="26.8" rx="3" stroke-width="2.3" fill="#fff"/>
<path d="M-23 -4.5H23M-23 4.5H23M-7 -13.75V13.75M0 -13.75V13.75M7 -13.75V13.75" stroke-width="1.5"/>
<rect x="-21" y="-9.5" width="13" height="13" rx="4" class="fk"/><rect x="9" y="-3.5" width="13" height="13" rx="4" class="fk"/>
</g>
<path d="M1469.5 219V204Q1469.5 198.5 1475 198.5H1520Q1526.5 198.5 1526.5 204V219" fill="#fff"/>
<circle cx="1497.5" cy="199" r="17.6" fill="#fff"/>
<circle cx="1497.5" cy="199" r="7.5" stroke-width="1.6"/>
<line x1="1469" y1="220.3" x2="1528" y2="220.3" stroke-width="5"/>
<line x1="1497.5" y1="150" x2="1497.5" y2="230" stroke-width="1.7"/>
<line x1="1475" y1="198.7" x2="1520" y2="198.7"/>
<path d="M1500 181.5L1630 176.5Q1660 176 1676 195L1784 309"/>
<line x1="1525" y1="215.5" x2="1645" y2="212"/>
<line x1="1665" y1="220" x2="1758" y2="321"/>
<path d="M1665 233Q1708 270 1722 315"/>
<line x1="1665" y1="291" x2="1760" y2="330"/>
<rect x="1643.5" y="206" width="21.5" height="112" class="fk"/>
<path d="M1647.5 219.5H1662.5M1647.5 222.6H1662.5M1647.5 225.7H1662.5M1647.5 228.8H1662.5M1647.5 231.9H1662.5M1647.5 235H1662.5M1647.5 238.1H1662.5M1647.5 241.2H1662.5M1647.5 244.3H1662.5M1647.5 247.4H1662.5M1647.5 250.5H1662.5M1647.5 253.6H1662.5M1647.5 256.7H1662.5M1647.5 259.8H1662.5M1647.5 262.9H1662.5M1647.5 266H1662.5M1647.5 269.1H1662.5M1647.5 272.2H1662.5M1647.5 275.3H1662.5M1647.5 278.4H1662.5M1647.5 281.5H1662.5M1647.5 284.6H1662.5M1647.5 287.7H1662.5M1647.5 290.8H1662.5M1647.5 293.9H1662.5M1647.5 297H1662.5M1647.5 300.1H1662.5M1647.5 303.2H1662.5M1647.5 306.3H1662.5M1647.5 309.4H1662.5" stroke="#a5a5a5" stroke-width="1.7"/>
<path d="M1647 222L1663 238L1647 262L1663 278M1647 285L1663 262M1647 305L1663 285M1650 300L1662 311M1663 222L1655 232" stroke-width="3.2"/>
<circle cx="1656" cy="197" r="9.3" stroke-width="4.4" fill="#fff"/>
<rect x="1653" y="194" width="6" height="6" fill="#fff" stroke-width="1.5"/>
<line x1="1656" y1="178" x2="1656" y2="187"/>
<path d="M1645.5 325A9 9 0 0 0 1663 325" stroke-width="1.6"/>
<line x1="1642" y1="324.5" x2="1660" y2="324.5" stroke-width="2"/>
<rect x="1649" y="325" width="5" height="28.5" fill="#fff"/>
<line x1="1664" y1="318" x2="1672" y2="334"/>
<line x1="1677" y1="346" x2="1684" y2="364"/>
<circle cx="1648.11" cy="260.63" r="7.4" class="fk"/>
<circle cx="1773.5" cy="317.5" r="15" fill="#fff"/>
<circle cx="1773.5" cy="317.5" r="8" stroke-width="1.3"/>
<line x1="1745" y1="317.5" x2="1802.5" y2="317.5"/>
<line x1="1773.5" y1="289" x2="1773.5" y2="335"/>
<rect x="1226" y="335" width="23" height="115"/>
<rect x="1747" y="335" width="22" height="115"/>
<line x1="1771.5" y1="335" x2="1771.5" y2="378" stroke-width="3"/>
<rect x="1768" y="336" width="9" height="42"/>
<circle cx="1238" cy="347.5" r="11.1" stroke="#555" stroke-width="1.4" stroke-dasharray="2.2 1.3"/>
<circle cx="1238" cy="347.5" r="8.19" stroke-width="2.3"/>
<circle cx="1238" cy="347.5" r="4.41" stroke-width="1.5"/>
<line x1="1225.4" y1="347.5" x2="1250.6" y2="347.5" stroke-width="2"/>
<line x1="1238" y1="334.9" x2="1238" y2="360.1" stroke-width="2"/>
<circle cx="1757.5" cy="347.5" r="11.1" stroke="#555" stroke-width="1.4" stroke-dasharray="2.2 1.3"/>
<circle cx="1757.5" cy="347.5" r="8.19" stroke-width="2.3"/>
<circle cx="1757.5" cy="347.5" r="4.41" stroke-width="1.5"/>
<line x1="1744.9" y1="347.5" x2="1770.1" y2="347.5" stroke-width="2"/>
<line x1="1757.5" y1="334.9" x2="1757.5" y2="360.1" stroke-width="2"/>
<circle cx="1238" cy="378" r="11.1" stroke="#555" stroke-width="1.4" stroke-dasharray="2.2 1.3"/>
<circle cx="1238" cy="378" r="8.19" stroke-width="2.3"/>
<circle cx="1238" cy="378" r="4.41" stroke-width="1.5"/>
<line x1="1225.4" y1="378" x2="1250.6" y2="378" stroke-width="2"/>
<line x1="1238" y1="365.4" x2="1238" y2="390.6" stroke-width="2"/>
<circle cx="1757.5" cy="378" r="11.1" stroke="#555" stroke-width="1.4" stroke-dasharray="2.2 1.3"/>
<circle cx="1757.5" cy="378" r="8.19" stroke-width="2.3"/>
<circle cx="1757.5" cy="378" r="4.41" stroke-width="1.5"/>
<line x1="1744.9" y1="378" x2="1770.1" y2="378" stroke-width="2"/>
<line x1="1757.5" y1="365.4" x2="1757.5" y2="390.6" stroke-width="2"/>
<circle cx="1238" cy="407" r="11.1" stroke="#555" stroke-width="1.4" stroke-dasharray="2.2 1.3"/>
<circle cx="1238" cy="407" r="8.19" stroke-width="2.3"/>
<circle cx="1238" cy="407" r="4.41" stroke-width="1.5"/>
<line x1="1225.4" y1="407" x2="1250.6" y2="407" stroke-width="2"/>
<line x1="1238" y1="394.4" x2="1238" y2="419.6" stroke-width="2"/>
<circle cx="1757.5" cy="407" r="11.1" stroke="#555" stroke-width="1.4" stroke-dasharray="2.2 1.3"/>
<circle cx="1757.5" cy="407" r="8.19" stroke-width="2.3"/>
<circle cx="1757.5" cy="407" r="4.41" stroke-width="1.5"/>
<line x1="1744.9" y1="407" x2="1770.1" y2="407" stroke-width="2"/>
<line x1="1757.5" y1="394.4" x2="1757.5" y2="419.6" stroke-width="2"/>
<circle cx="1238" cy="436.5" r="11.1" stroke="#555" stroke-width="1.4" stroke-dasharray="2.2 1.3"/>
<circle cx="1238" cy="436.5" r="8.19" stroke-width="2.3"/>
<circle cx="1238" cy="436.5" r="4.41" stroke-width="1.5"/>
<line x1="1225.4" y1="436.5" x2="1250.6" y2="436.5" stroke-width="2"/>
<line x1="1238" y1="423.9" x2="1238" y2="449.1" stroke-width="2"/>
<circle cx="1757.5" cy="436.5" r="11.1" stroke="#555" stroke-width="1.4" stroke-dasharray="2.2 1.3"/>
<circle cx="1757.5" cy="436.5" r="8.19" stroke-width="2.3"/>
<circle cx="1757.5" cy="436.5" r="4.41" stroke-width="1.5"/>
<line x1="1744.9" y1="436.5" x2="1770.1" y2="436.5" stroke-width="2"/>
<line x1="1757.5" y1="423.9" x2="1757.5" y2="449.1" stroke-width="2"/>
<path d="M1325.5 606.5V667.5"/>
<line x1="1225" y1="606.5" x2="1325" y2="606.5" stroke="#999" stroke-width="2.5" stroke-dasharray="26 12"/>
<line x1="1225" y1="641.5" x2="1325" y2="641.5" stroke="#999" stroke-width="2" stroke-dasharray="26 12"/>
<line x1="1225" y1="641.5" x2="1325.5" y2="641.5"/>
<circle cx="1243" cy="622.5" r="11.1" stroke="#555" stroke-width="1.4" stroke-dasharray="2.2 1.3"/>
<circle cx="1243" cy="622.5" r="8.19" stroke-width="2.3"/>
<circle cx="1243" cy="622.5" r="4.41" stroke-width="1.5"/>
<line x1="1230.4" y1="622.5" x2="1255.6" y2="622.5" stroke-width="2"/>
<line x1="1243" y1="609.9" x2="1243" y2="635.1" stroke-width="2"/>
<circle cx="1243" cy="654.5" r="11.1" stroke="#555" stroke-width="1.4" stroke-dasharray="2.2 1.3"/>
<circle cx="1243" cy="654.5" r="8.19" stroke-width="2.3"/>
<circle cx="1243" cy="654.5" r="4.41" stroke-width="1.5"/>
<line x1="1230.4" y1="654.5" x2="1255.6" y2="654.5" stroke-width="2"/>
<line x1="1243" y1="641.9" x2="1243" y2="667.1" stroke-width="2"/>
<circle cx="1275" cy="622.5" r="11.1" stroke="#555" stroke-width="1.4" stroke-dasharray="2.2 1.3"/>
<circle cx="1275" cy="622.5" r="8.19" stroke-width="2.3"/>
<circle cx="1275" cy="622.5" r="4.41" stroke-width="1.5"/>
<line x1="1262.4" y1="622.5" x2="1287.6" y2="622.5" stroke-width="2"/>
<line x1="1275" y1="609.9" x2="1275" y2="635.1" stroke-width="2"/>
<circle cx="1275" cy="654.5" r="11.1" stroke="#555" stroke-width="1.4" stroke-dasharray="2.2 1.3"/>
<circle cx="1275" cy="654.5" r="8.19" stroke-width="2.3"/>
<circle cx="1275" cy="654.5" r="4.41" stroke-width="1.5"/>
<line x1="1262.4" y1="654.5" x2="1287.6" y2="654.5" stroke-width="2"/>
<line x1="1275" y1="641.9" x2="1275" y2="667.1" stroke-width="2"/>
<circle cx="1307" cy="622.5" r="11.1" stroke="#555" stroke-width="1.4" stroke-dasharray="2.2 1.3"/>
<circle cx="1307" cy="622.5" r="8.19" stroke-width="2.3"/>
<circle cx="1307" cy="622.5" r="4.41" stroke-width="1.5"/>
<line x1="1294.4" y1="622.5" x2="1319.6" y2="622.5" stroke-width="2"/>
<line x1="1307" y1="609.9" x2="1307" y2="635.1" stroke-width="2"/>
<circle cx="1307" cy="654.5" r="11.1" stroke="#555" stroke-width="1.4" stroke-dasharray="2.2 1.3"/>
<circle cx="1307" cy="654.5" r="8.19" stroke-width="2.3"/>
<circle cx="1307" cy="654.5" r="4.41" stroke-width="1.5"/>
<line x1="1294.4" y1="654.5" x2="1319.6" y2="654.5" stroke-width="2"/>
<line x1="1307" y1="641.9" x2="1307" y2="667.1" stroke-width="2"/>
<path d="M1670 606.5V640"/>
<line x1="1670" y1="606.5" x2="1771" y2="606.5" stroke="#999" stroke-width="2.5" stroke-dasharray="26 12"/>
<circle cx="1689" cy="622.5" r="11.1" stroke="#555" stroke-width="1.4" stroke-dasharray="2.2 1.3"/>
<circle cx="1689" cy="622.5" r="8.19" stroke-width="2.3"/>
<circle cx="1689" cy="622.5" r="4.41" stroke-width="1.5"/>
<line x1="1676.4" y1="622.5" x2="1701.6" y2="622.5" stroke-width="2"/>
<line x1="1689" y1="609.9" x2="1689" y2="635.1" stroke-width="2"/>
<circle cx="1720.5" cy="622.5" r="11.1" stroke="#555" stroke-width="1.4" stroke-dasharray="2.2 1.3"/>
<circle cx="1720.5" cy="622.5" r="8.19" stroke-width="2.3"/>
<circle cx="1720.5" cy="622.5" r="4.41" stroke-width="1.5"/>
<line x1="1707.9" y1="622.5" x2="1733.1" y2="622.5" stroke-width="2"/>
<line x1="1720.5" y1="609.9" x2="1720.5" y2="635.1" stroke-width="2"/>
<circle cx="1752.5" cy="622.5" r="11.1" stroke="#555" stroke-width="1.4" stroke-dasharray="2.2 1.3"/>
<circle cx="1752.5" cy="622.5" r="8.19" stroke-width="2.3"/>
<circle cx="1752.5" cy="622.5" r="4.41" stroke-width="1.5"/>
<line x1="1739.9" y1="622.5" x2="1765.1" y2="622.5" stroke-width="2"/>
<line x1="1752.5" y1="609.9" x2="1752.5" y2="635.1" stroke-width="2"/>
<path d="M1639 667.5Q1647 645 1670 639Q1720 631 1771 639"/>
<line x1="1670" y1="637.7" x2="1771" y2="637.7"/>
<defs><pattern id="ht" width="6" height="6" patternUnits="userSpaceOnUse" patternTransform="rotate(-45)"><rect width="6" height="6" fill="#fff" stroke="none"/><line x1="0" y1="3" x2="6" y2="3" stroke="#231815" stroke-width="1.6"/></pattern></defs>
<rect x="1670" y="640" width="40" height="27.5" fill="url(#ht)" stroke-width="1.5"/>
<rect x="1731.5" y="640" width="39.5" height="27.5" fill="url(#ht)" stroke-width="1.5"/>
<line x1="1720.5" y1="592.5" x2="1720.5" y2="680" stroke-width="1.3"/>
</g>
</svg>
<div class="ttl"><span class="zh">技术参数</span><span class="en">Technical Parameter</span></div>
<div class="hd">
<div class="hc" style="left:85px;width:130px"><b>型号</b><i style="letter-spacing:2.1px;margin-right:-2.1px">Model</i></div>
<div class="hc" style="left:218px;width:164px"><b>第一层拉力</b><i style="letter-spacing:0.3px;margin-right:-0.3px">Pull(KN)</i></div>
<div class="hc" style="left:385px;width:275px"><b>第一层绳速</b><i style="letter-spacing:1.05px;margin-right:-1.05px">Rope speed(m/min)</i></div>
<div class="hc h3" style="left:663px;width:130px"><b>工作压差</b><i style="letter-spacing:-0.1px;margin-right:0.1px">Pressure</i><i style="letter-spacing:-0.2px;margin-right:0.2px">(MPa)</i></div>
<div class="hc" style="left:796px;width:296.5px"><b>额定流量</b><i style="letter-spacing:0.95px;margin-right:-0.95px">Rated flow (L/min)</i></div>
<div class="hc" style="left:1095.5px;width:292.5px"><b>绳直径</b><i style="letter-spacing:0.9px;margin-right:-0.9px;position:relative;left:7px">Rope diameter(mm)</i></div>
<div class="hc" style="left:1391.5px;width:244.5px"><b>容绳量</b><i style="letter-spacing:0.55px;margin-right:-0.55px">Rope capacity(m)</i></div>
<div class="hc" style="left:1639.5px;width:165.5px"><b>马达型号</b><i style="letter-spacing:1.5px;margin-right:-1.5px">Motor model</i></div>
<div class="hc" style="left:1808.5px;width:277.5px"><b>减速比</b><i style="letter-spacing:0.95px;margin-right:-0.95px">Reduction ratio</i></div>
</div>
<div class="bd">
<div class="bc" style="left:81.9px;width:133.1px">YS30</div>
<div class="bc" style="left:215px;width:167px">300</div>
<div class="bc" style="left:382px;width:278px">4.9</div>
<div class="bc" style="left:660px;width:133px">18</div>
<div class="bc" style="left:793px;width:299.5px">120</div>
<div class="bc" style="left:1092.5px;width:295.7px">28</div>
<div class="bc" style="left:1388.2px;width:248px">50</div>
<div class="bc" style="left:1636.2px;width:169px">500</div>
<div class="bc" style="left:1805.2px;border-right-width:3px;width:284px">80</div>
</div>
</body></html>
